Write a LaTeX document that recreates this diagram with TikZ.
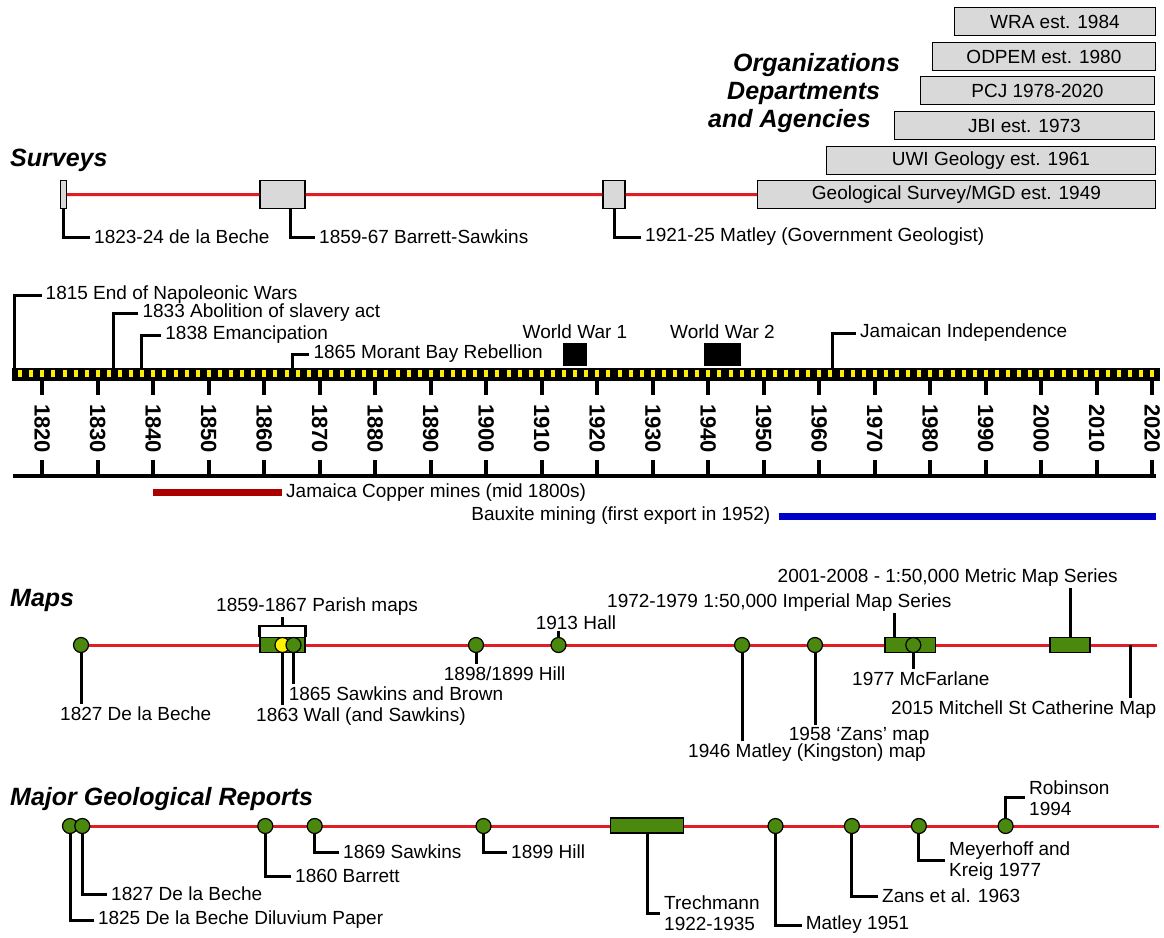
\documentclass[tikz,border=0pt]{standalone}
\usepackage{fontspec}
\setmainfont{Liberation Sans}
\usetikzlibrary{positioning}

\definecolor{trackred}{RGB}{225,28,36}
\definecolor{mapgreen}{RGB}{74,137,14}
\definecolor{boxgray}{RGB}{217,217,217}
\definecolor{copperred}{RGB}{170,0,0}
\definecolor{bauxblue}{RGB}{0,0,204}
\definecolor{baryellow}{RGB}{255,238,0}

\begin{document}
\begin{tikzpicture}[x=1pt, y=-1pt,
    every node/.style={font=\fontsize{19}{21}\selectfont},
    heading/.style={anchor=base west, inner sep=0pt, font=\fontsize{25}{28}\selectfont\bfseries\itshape},
    orgbox/.style={rectangle, draw=black, line width=1.2pt, fill=boxgray, anchor=north east, minimum height=28pt, inner sep=0pt},
    svbox/.style={rectangle, draw=black, line width=1.2pt, fill=boxgray, minimum height=28pt, inner sep=0pt},
    mapdot/.style={circle, draw=black, line width=1.2pt, fill=mapgreen, minimum size=15pt, inner sep=0pt},
    spanbox/.style={rectangle, draw=black, line width=1.2pt, fill=mapgreen, minimum height=15pt, inner sep=0pt},
    warbox/.style={rectangle, fill=black, minimum height=23pt, inner sep=0pt},
    track/.style={draw=trackred, line width=3pt},
    conn/.style={draw=black, line width=3pt},
    lbl/.style={anchor=west, inner xsep=4pt, inner ysep=0pt, align=left},
    mlbl/.style={anchor=base west, inner sep=2pt},
    yearlbl/.style={rotate=-90, inner sep=0pt, font=\fontsize{22}{22}\selectfont\bfseries}
    ]
    \useasboundingbox (0,0) rectangle (1164,937);

    % Organizations
    \node[orgbox, minimum width=201pt] (wra) at (1156,7) {WRA est. 1984};
    \node[orgbox, minimum width=223pt] (odpem) at (1156,42) {ODPEM est. 1980};
    \node[orgbox, minimum width=234pt] (pcj) at (1155,76) {PCJ 1978-2020};
    \node[orgbox, minimum width=260pt] (jbi) at (1155,111) {JBI est. 1973};
    \node[orgbox, minimum width=329pt] (uwi) at (1156,146) {UWI Geology est. 1961};
    \node[orgbox, minimum width=398pt] (gs) at (1156,180) {Geological Survey/MGD est. 1949};
    \node[heading] (orgA) at (733,71) {Organizations};
    \node[heading] (orgB) at (727,99) {Departments};
    \node[heading] (orgC) at (708,127) {and Agencies};

    % Surveys
    \node[heading] (hsv) at (10,166) {Surveys};
    \node[svbox, minimum width=6pt] (sv1823) at (63.5,194.5) {};
    \node[svbox, minimum width=45pt] (sv1859) at (282.5,194.5) {};
    \node[svbox, minimum width=22pt] (sv1921) at (614,194.5) {};
    \draw[track] (sv1823) -- (sv1859) (sv1859) -- (sv1921) (sv1921) -- (gs);
    \node[lbl] (lsv1823) at (90,237) {1823-24 de la Beche};
    \node[lbl] (lsv1859) at (315,237) {1859-67 Barrett-Sawkins};
    \node[lbl] (lsv1921) at (641,237) {1921-25 Matley (Government Geologist)};
    \draw[conn] (sv1823.south) |- (lsv1823.west);
    \draw[conn] ([xshift=7.5pt]sv1859.south) |- (lsv1859.west);
    \draw[conn] (sv1921.south) |- (lsv1921.west);

    % Time scale
    \fill (12,368) rectangle (1160,381);
    \foreach \yr in {1816,1818,...,2020} {
        \pgfmathsetmacro\px{42.3+(\yr-1820)*5.55}
        \fill[baryellow] (\px-2,370) rectangle (\px+2,377);
    }
    \foreach \yr in {1820,1830,...,2020} {
        \pgfmathsetmacro\px{42.3+(\yr-1820)*5.55}
        \draw[line width=4pt] (\px,381) -- (\px,395) (\px,460) -- (\px,475);
        \node[yearlbl] (y\yr) at (\px,428.5) {\yr};
    }
    \draw[line width=4pt] (13,475.5) -- (1156,475.5);

    % Events
    \coordinate (e1815) at (14.9,368);
    \coordinate (e1833) at (113.7,368);
    \coordinate (e1838) at (141.1,368);
    \coordinate (e1865) at (292.3,368);
    \coordinate (e1962) at (832,368);
    \node[lbl] (l1815) at (41.5,295) {1815 End of Napoleonic Wars};
    \node[lbl] (l1833) at (138.4,313) {1833 Abolition of slavery act};
    \node[lbl] (l1838) at (161.2,335) {1838 Emancipation};
    \node[lbl] (l1865) at (309.4,354) {1865 Morant Bay Rebellion};
    \node[lbl] (l1962) at (856,333) {Jamaican Independence};
    \draw[conn] (e1815) |- (l1815.west);
    \draw[conn] (e1833) |- (l1833.west);
    \draw[conn] (e1838) |- (l1838.west);
    \draw[conn] (e1865) |- (l1865.west);
    \draw[conn] (e1962) |- (l1962.west);
    \node[warbox, minimum width=24pt] (ww1) at (575,354.5) {};
    \node[warbox, minimum width=37pt] (ww2) at (722.5,354.5) {};
    \node[above=4pt of ww1, inner sep=0pt] (lww1) {World War 1};
    \node[above=4pt of ww2, inner sep=0pt] (lww2) {World War 2};

    % Mining
    \coordinate (cu1) at (153,492.5);
    \coordinate (cu2) at (282,492.5);
    \coordinate (bx1) at (778.5,516);
    \coordinate (bx2) at (1156,516);
    \draw[copperred, line width=7pt] (cu1) -- (cu2);
    \draw[bauxblue, line width=7pt] (bx1) -- (bx2);
    \node[right=4pt of cu2, inner sep=0pt] (lcu) {Jamaica Copper mines (mid 1800s)};
    \node[left=8pt of bx1, inner sep=0pt] (lbx) {Bauxite mining (first export in 1952)};

    % Maps
    \node[heading] (hmap) at (10,606) {Maps};
    \coordinate (mapA) at (81,645);
    \coordinate (mapB) at (1157,645);
    \draw[track] (mapA) -- (mapB);
    \node[mapdot] (m1827) at (81,645) {};
    \node[spanbox, minimum width=45pt] (pmaps) at (282.5,645) {};
    \node[mapdot, fill=yellow] (m1863) at (282.5,645) {};
    \node[mapdot] (m1865) at (293.5,645) {};
    \node[mapdot] (m1898) at (476,645) {};
    \node[mapdot] (m1913) at (558.5,645) {};
    \node[mapdot] (m1946) at (742,645) {};
    \node[mapdot] (m1958) at (815,645) {};
    \node[spanbox, minimum width=50.6pt] (imp) at (910.3,645) {};
    \node[mapdot] (m1977) at (913.3,645) {};
    \node[spanbox, minimum width=40pt] (met) at (1070,645) {};
    \coordinate (m2015) at (1130.4,645);

    \node[mlbl] (l1827) at (58,720) {1827 De la Beche};
    \node[mlbl] (lparish) at (214,611) {1859-1867 Parish maps};
    \node[mlbl] (l1863) at (254,721) {1863 Wall (and Sawkins)};
    \node[mlbl] (l1865m) at (286.6,700) {1865 Sawkins and Brown};
    \node[mlbl] (l1898) at (441.7,680) {1898/1899 Hill};
    \node[mlbl] (l1913) at (533.6,629) {1913 Hall};
    \node[mlbl] (l1946) at (686,757) {1946 Matley (Kingston) map};
    \node[mlbl] (l1958) at (786.7,740) {1958 ‘Zans’ map};
    \node[mlbl] (limp) at (605,607) {1972-1979 1:50,000 Imperial Map Series};
    \node[mlbl] (l1977) at (850,685) {1977 McFarlane};
    \node[mlbl] (lmet) at (775.5,582) {2001-2008 - 1:50,000 Metric Map Series};
    \node[mlbl] (l2015) at (889,714) {2015 Mitchell St Catherine Map};

    \draw[conn] (m1827.south) -- (m1827 |- l1827.north);
    \draw[conn, line width=2.5pt] (pmaps.north west) -- ++(0,-11) -| (pmaps.north east);
    \draw[conn] ([yshift=11pt]pmaps.north) -- (pmaps.north |- lparish.south);
    \draw[conn] (m1863.south) -- (m1863 |- l1863.north);
    \draw[conn] (m1865.south) -- (m1865 |- l1865m.north);
    \draw[conn] (m1898.south) -- (m1898 |- l1898.north);
    \draw[conn] (m1913.north) -- (m1913 |- l1913.south);
    \draw[conn] (m1946.south) -- (m1946 |- l1946.north);
    \draw[conn] (m1958.south) -- (m1958 |- l1958.north);
    \draw[conn] ([xshift=9.7pt]imp.north west) -- ([xshift=9.7pt]imp.north west |- limp.south);
    \draw[conn] (m1977.south) -- (m1977 |- l1977.north);
    \draw[conn] (met.north) -- (met.north |- lmet.south);
    \draw[conn] (m2015) -- (m2015 |- l2015.north);

    % Reports
    \node[heading] (hrep) at (10,805) {Major Geological Reports};
    \coordinate (repA) at (70,826);
    \coordinate (repB) at (1159,826);
    \draw[track] (repA) -- (repB);
    \node[mapdot] (r1825) at (70,826) {};
    \node[mapdot] (r1827) at (82.3,826) {};
    \node[mapdot] (r1860) at (265.3,826) {};
    \node[mapdot] (r1869) at (314.7,826) {};
    \node[mapdot] (r1899) at (483.5,826) {};
    \node[spanbox, minimum width=73pt] (trech) at (647,825.5) {};
    \node[mapdot] (r1951) at (775.5,826) {};
    \node[mapdot] (r1963) at (851.9,826) {};
    \node[mapdot] (r1977) at (918.9,826) {};
    \node[mapdot] (r1994) at (1005.6,826) {};

    \node[lbl] (lr1825) at (93.8,920) {1825 De la Beche Diluvium Paper};
    \node[lbl] (lr1827) at (107,894) {1827 De la Beche};
    \node[lbl] (lr1860) at (291,876) {1860 Barrett};
    \node[lbl] (lr1869) at (339,852) {1869 Sawkins};
    \node[lbl] (lr1899) at (507,852) {1899 Hill};
    \node[lbl] (ltrech) at (660,913) {Trechmann\\1922-1935};
    \node[lbl] (lr1951) at (801.6,925) {Matley 1951};
    \node[lbl] (lr1963) at (878,896) {Zans et al. 1963};
    \node[lbl] (lr1977) at (945,860.7) {Meyerhoff and\\Kreig 1977};
    \node[lbl] (lr1994) at (1025,797.7) {Robinson\\1994};

    \draw[conn] (r1825.south) |- (lr1825.west);
    \draw[conn] (r1827.south) |- (lr1827.west);
    \draw[conn] (r1860.south) |- (lr1860.west);
    \draw[conn] (r1869.south) |- (lr1869.west);
    \draw[conn] (r1899.south) |- (lr1899.west);
    \draw[conn] (trech.south) |- (ltrech.west);
    \draw[conn] (r1951.south) |- (lr1951.west);
    \draw[conn] (r1963.south) |- (lr1963.west);
    \draw[conn] (r1977.south) |- (lr1977.west);
    \draw[conn] (r1994.north) |- (lr1994.west);
\end{tikzpicture}
\end{document}
